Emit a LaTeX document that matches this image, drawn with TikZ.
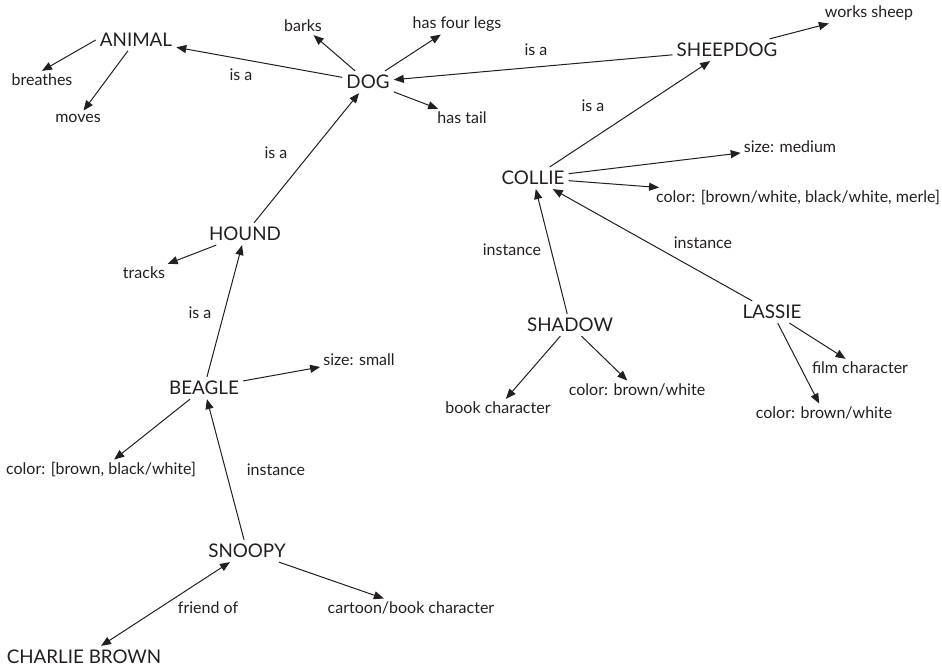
\documentclass[tikz,border=0pt]{standalone}
\usepackage{fontspec}
\setmainfont{Lato}
\usetikzlibrary{arrows.meta}
\definecolor{ink}{RGB}{35,31,32}
\begin{document}
\begin{tikzpicture}[x=1pt,y=-1pt, every node/.style={text=ink},
  big/.style={font=\fontsize{18.8}{21}\selectfont, inner sep=4pt},
  small/.style={font=\fontsize{16}{18}\selectfont, inner sep=3pt},
  lbl/.style={font=\fontsize{16}{18}\selectfont, inner sep=1pt},
  arr/.style={draw=ink, line width=1pt, -{Triangle[length=10pt,width=8pt]}},
  darr/.style={draw=ink, line width=1pt, {Triangle[length=10pt,width=8pt]}-{Triangle[length=10pt,width=8pt]}}]
\useasboundingbox (0,0) rectangle (942,671);
% main nodes
\node[big] (animal) at (136,40) {ANIMAL};
\node[big] (dog) at (368,82) {DOG};
\node[big] (sheepdog) at (727,50) {SHEEPDOG};
\node[big] (collie) at (533,178) {COLLIE};
\node[big] (hound) at (245,234) {HOUND};
\node[big] (shadow) at (570,325) {SHADOW};
\node[big] (lassie) at (772,312) {LASSIE};
\node[big] (beagle) at (204,388) {BEAGLE};
\node[big] (snoopy) at (247,551) {SNOOPY};
\node[big] (charlie) at (84,657) {CHARLIE BROWN};
% attribute nodes
\node[small] (breathes) at (42,80) {breathes};
\node[small] (moves) at (78,118) {moves};
\node[small] (barks) at (303,26) {barks};
\node[small] (legs) at (457,24) {has four legs};
\node[small] (tail) at (462,118) {has tail};
\node[small] (works) at (869,13) {works sheep};
\node[small] (csize) at (790,147) {size: medium};
\node[small] (ccolor) at (798,198) {color: [brown/white, black/white, merle]};
\node[small] (tracks) at (144,273) {tracks};
\node[small] (bookc) at (498,408) {book character};
\node[small] (shcolor) at (637,390) {color: brown/white};
\node[small] (film) at (860,368) {film character};
\node[small] (lcolor) at (824,413) {color: brown/white};
\node[small] (bsize) at (359,360) {size: small};
\node[small] (bcolor) at (101,470) {color: [brown, black/white]};
\node[small] (cartoon) at (411,608) {cartoon/book character};
% link labels
\node[lbl] (l1) at (241,75) {is a};
\node[lbl] (l2) at (276,153) {is a};
\node[lbl] (l3) at (536,50) {is a};
\node[lbl] (l4) at (593,106) {is a};
\node[lbl] (l5) at (200,313) {is a};
\node[lbl] (l6) at (512,250) {instance};
\node[lbl] (l7) at (703,243) {instance};
\node[lbl] (l8) at (276,470) {instance};
\node[lbl] (l9) at (208,608) {friend of};
% connectors
\draw[arr] (animal.west) -- (breathes.north);
\draw[arr] (animal) -- (moves);
\draw[arr] (dog) -- (animal);
\draw[arr] (dog) -- (barks);
\draw[arr] (dog) -- (legs);
\draw[arr] (dog) -- (tail);
\draw[arr] (sheepdog) -- (dog);
\draw[arr] (sheepdog) -- (works);
\draw[arr] (collie) -- (sheepdog);
\draw[arr] (collie) -- (csize);
\draw[arr] (collie) -- (ccolor);
\draw[arr] (hound) -- (dog);
\draw[arr] (hound) -- (tracks);
\draw[arr] (shadow) -- (collie);
\draw[arr] (lassie) -- (collie);
\draw[arr] (beagle) -- (hound);
\draw[arr] (beagle) -- (bsize);
\draw[arr] (beagle) -- (bcolor);
\draw[arr] (snoopy) -- (beagle);
\draw[arr] (shadow) -- (bookc);
\draw[arr] (shadow) -- (shcolor);
\draw[arr] (lassie) -- (lcolor);
\draw[arr] (lassie) -- (film);
\draw[arr] (snoopy) -- (cartoon);
\draw[darr] (snoopy) -- (charlie);
\end{tikzpicture}
\end{document}
